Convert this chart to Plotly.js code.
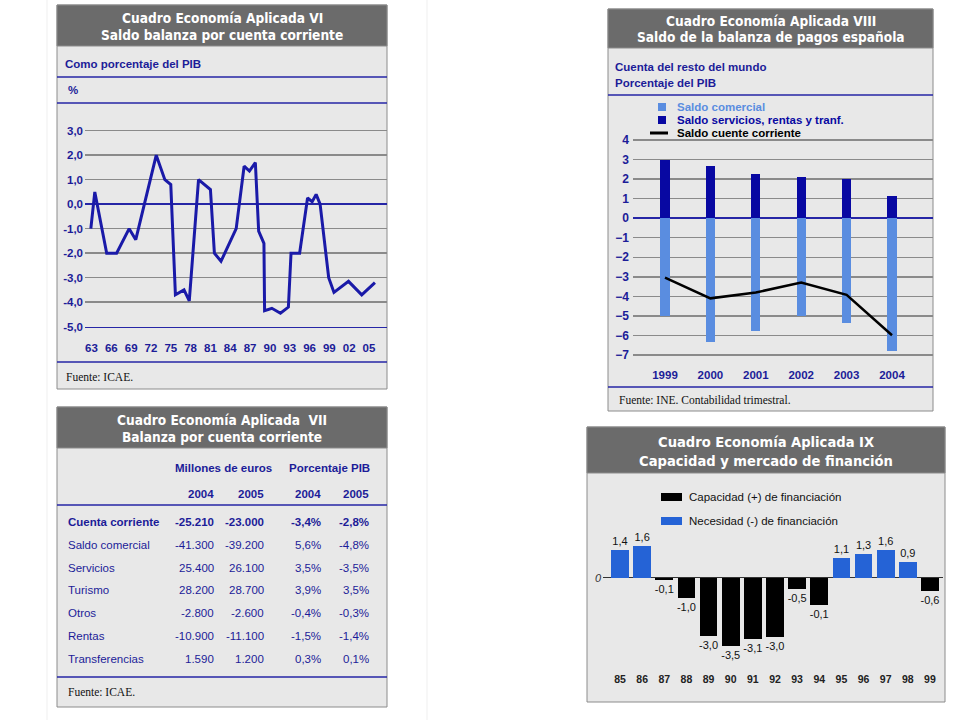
<!DOCTYPE html>
<html><head><meta charset="utf-8">
<script src="https://cdn.plot.ly/plotly-3.0.1.min.js"></script>
<style>html,body{margin:0;padding:0;background:#fff}#chart{width:960px;height:720px}</style>
</head><body><div id="chart"></div>
<script>
// ---------- Cuadro VI : saldo balanza por cuenta corriente (% PIB) ----------
const viYears = [1962.9,1963.5,1965.3,1966.8,1968.7,1969.7,1972.8,1974.1,1975.0,1975.7,1977.0,1977.8,1979.2,1981.0,1981.6,1982.6,1984.9,1986.1,1986.9,1987.8,1988.3,1989.1,1989.2,1990.3,1991.6,1992.8,1993.2,1994.5,1995.7,1996.4,1997.0,1997.6,1998.9,1999.7,2001.9,2003.9,2005.9];
const viValues = [-1.0,0.5,-2.0,-2.0,-1.0,-1.45,2.0,1.0,0.8,-3.7,-3.5,-3.95,1.0,0.6,-2.0,-2.33,-1.0,1.55,1.35,1.7,-1.1,-1.6,-4.35,-4.25,-4.45,-4.2,-2.0,-2.0,0.25,0.1,0.4,0.0,-3.0,-3.6,-3.15,-3.7,-3.2];
const viTickYears = [1963,1966,1969,1972,1975,1978,1981,1984,1987,1990,1993,1996,1999,2002,2005];
const viTickLabels = ['63','66','69','72','75','78','81','84','87','90','93','96','99','02','05'];
const viYTicks = [3,2,1,0,-1,-2,-3,-4,-5];
const viYLabels = ['3,0','2,0','1,0','0,0','-1,0','-2,0','-3,0','-4,0','-5,0'];

// ---------- Cuadro VII : tabla ----------
const viiRows = ['Cuenta corriente','Saldo comercial','Servicios','Turismo','Otros','Rentas','Transferencias'];
const viiEur2004 = ['-25.210','-41.300','25.400','28.200','-2.800','-10.900','1.590'];
const viiEur2005 = ['-23.000','-39.200','26.100','28.700','-2.600','-11.100','1.200'];
const viiPib2004 = ['-3,4%','5,6%','3,5%','3,9%','-0,4%','-1,5%','0,3%'];
const viiPib2005 = ['-2,8%','-4,8%','-3,5%','3,5%','-0,3%','-1,4%','0,1%'];
const viiGroups = ['Millones de euros','Porcentaje PIB'];
const viiYears = ['2004','2005','2004','2005'];

// ---------- Cuadro VIII ----------
const viiiYears = ['1999','2000','2001','2002','2003','2004'];
const viiiComercial = [-5.0,-6.33,-5.75,-5.0,-5.36,-6.81];
const viiiServicios = [3.0,2.68,2.24,2.1,2.0,1.11];
const viiiCorriente = [-3.04,-4.1,-3.8,-3.29,-3.92,-5.99];
const viiiNames = ['Saldo comercial','Saldo servicios, rentas y tranf.','Saldo cuente corriente'];
const viiiYTicks = [4,3,2,1,0,-1,-2,-3,-4,-5,-6,-7];

// ---------- Cuadro IX ----------
const ixYears = ['85','86','87','88','89','90','91','92','93','94','95','96','97','98','99'];
const ixValues = [1.41,1.63,-0.1,-1.02,-2.96,-3.47,-3.11,-3.03,-0.6,-1.39,0.99,1.19,1.41,0.78,-0.66];
const ixLabels = ['1,4','1,6','-0,1','-1,0','-3,0','-3,5','-3,1','-3,0','-0,5','-0,1','1,1','1,3','1,6','0,9','-0,6'];
const ixNames = ['Capacidad (+) de financiación','Necesidad (-) de financiación'];

// ---------- helpers ----------
const W = 960, H = 720;
const X = p => p / W;
const Y = p => 1 - p / H;
const BLUE = '#1c1c98';
const LINEBLUE = '#2626a6';
const GRID = '#8a8a8a';
const HDR = '#6b6b6b';
const BODY = '#e8e8e8';
const SANS = 'Liberation Sans, Arial, sans-serif';
const SERIF = 'Liberation Serif, Times New Roman, serif';
const HFONT = 'DejaVu Sans Condensed, Liberation Sans Narrow, Arial Narrow, sans-serif';

const shapes = [];
const ann = [];

function rect(x0,y0,x1,y1,fill,line){
  shapes.push({type:'rect',xref:'paper',yref:'paper',x0:X(x0),x1:X(x1),y0:Y(y1),y1:Y(y0),
    fillcolor:fill,line:line?{color:line,width:1}:{width:0},layer:'below'});
}
function hline(x0,x1,y,color,w){
  shapes.push({type:'line',xref:'paper',yref:'paper',x0:X(x0),x1:X(x1),y0:Y(y),y1:Y(y),
    line:{color:color,width:w||1.5},layer:'below'});
}
function vline(x,y0,y1,color){
  shapes.push({type:'line',xref:'paper',yref:'paper',x0:X(x),x1:X(x),y0:Y(y0),y1:Y(y1),
    line:{color:color,width:1},layer:'below'});
}
function text(t,x,y,anchor,font){
  ann.push({text:t,xref:'paper',yref:'paper',x:X(x),y:Y(y),xanchor:anchor||'left',yanchor:'middle',
    showarrow:false,font:font});
}
function panel(x0,y0,x1,y1,hb,title1,title2,hsize){
  rect(x0,y0,x1,y1,BODY,'#8c8c8c');
  rect(x0,y0,x1,hb,HDR,'#8c8c8c');
  const cx=(x0+x1)/2;
  const f={family:HFONT,size:hsize,color:'#ffffff',weight:'bold'};
  text(title1,cx,y0+(hb-y0)*0.31,'center',f);
  text(title2,cx,y0+(hb-y0)*0.73,'center',f);
}
const fBlue = {family:SANS,size:11.5,color:BLUE,weight:'bold'};
const fBlueReg = {family:SANS,size:11.5,color:BLUE};
const fSerif = {family:SERIF,size:11.5,color:'#111111'};

// faint page separators
vline(47,0,720,'#efefef');
vline(427,0,720,'#efefef');

// ---------- panels ----------
panel(57,5,387,389,46,'Cuadro Economía Aplicada VI','Saldo balanza por cuenta corriente',13.6);
panel(608,9,933,411,48,'Cuadro Economía Aplicada VIII','Saldo de la balanza de pagos española',13.6);
panel(57,407,387,707,448,'Cuadro Economía Aplicada  VII','Balanza por cuenta corriente',13.6);
panel(587,427,945,702,473,'Cuadro Economía Aplicada IX','Capacidad y mercado de financión',14.6);

// Panel VI texts
text('Como porcentaje del PIB',63,64,'left',fBlue);
hline(57,387,77,LINEBLUE);
text('%',66,90,'left',fBlue);
hline(57,387,103,LINEBLUE);
hline(57,387,362,LINEBLUE);
text('Fuente: ICAE.',64,377,'left',fSerif);

// Panel VIII texts
text('Cuenta del resto del mundo',613,67,'left',fBlue);
text('Porcentaje del PIB',613,83,'left',fBlue);
hline(608,933,95,LINEBLUE);
hline(608,933,387,LINEBLUE);
text('Fuente: INE. Contabilidad trimestral.',617,400,'left',fSerif);
// legend VIII
const viiiColors = ['#5a8de0','#0808a2','#000000'];
rect(658,103,666,111,viiiColors[0]);
rect(658,116,666,124,viiiColors[1]);
hline(650,668,133,'#000000',3);
[107,120,133].forEach((yy,i)=>text(viiiNames[i],675,yy,'left',{family:SANS,size:11.5,color:viiiColors[i],weight:'bold'}));

// Panel VII table
hline(57,387,505,LINEBLUE);
hline(57,387,677,LINEBLUE);
text(viiGroups[0],223,468,'center',fBlue);
text(viiGroups[1],329,468,'center',fBlue);
const colRight = [216,266,323,371];
viiYears.forEach((t,i)=>text(t,colRight[i],494,'right',fBlue));
viiRows.forEach((r,i)=>{
  const yy = 522.3 + i*22.7;
  const f = i===0 ? fBlue : fBlueReg;
  text(r,66,yy,'left',f);
  [viiEur2004[i],viiEur2005[i],viiPib2004[i],viiPib2005[i]].forEach((v,j)=>text(v,colRight[j],yy,'right',f));
});
text('Fuente: ICAE.',66,692,'left',fSerif);

// legend IX
const ixColors = ['#000000','#2563d6'];
rect(661,493,682,501,ixColors[0]);
rect(661,517,682,525,ixColors[1]);
text(ixNames[0],687,497,'left',{family:SANS,size:11.5,color:'#111'});
text(ixNames[1],687,521,'left',{family:SANS,size:11.5,color:'#111'});

// ---------- traces ----------
const traces = [];
traces.push({type:'scatter',mode:'lines',x:viYears,y:viValues,xaxis:'x',yaxis:'y',
  line:{color:'#1a1aa8',width:3},hoverinfo:'skip',showlegend:false,cliponaxis:false});

traces.push({type:'bar',x:viiiYears,y:viiiServicios,xaxis:'x2',yaxis:'y2',width:0.2,
  marker:{color:viiiColors[1]},name:viiiNames[1],showlegend:false});
traces.push({type:'bar',x:viiiYears,y:viiiComercial,xaxis:'x2',yaxis:'y2',width:0.2,
  marker:{color:viiiColors[0]},name:viiiNames[0],showlegend:false});
traces.push({type:'scatter',mode:'lines',x:viiiYears,y:viiiCorriente,xaxis:'x2',yaxis:'y2',
  line:{color:'#000000',width:2.5},name:viiiNames[2],showlegend:false});

traces.push({type:'bar',x:ixYears,y:ixValues,xaxis:'x3',yaxis:'y3',width:0.8,
  marker:{color:ixValues.map(v=>v>=0?ixColors[1]:ixColors[0])},
  text:ixLabels,textposition:'outside',constraintext:'none',cliponaxis:false,
  textfont:{family:SANS,size:11,color:'#111'},showlegend:false});

// ---------- axes ----------
const viPx = 6.607, vi0 = 91.5;
const viiiStep = 45.4, viii0 = 665;
const ixStep = 22.14, ix0 = 620;

const layout = {
  width:W,height:H,margin:{l:0,r:0,t:0,b:0},
  paper_bgcolor:'#ffffff',plot_bgcolor:'rgba(0,0,0,0)',
  showlegend:false,barmode:'overlay',bargap:0,
  shapes:shapes,annotations:ann,
  xaxis:{domain:[X(85),X(387)],range:[1963-(vi0-85)/viPx,1963+(387-vi0)/viPx],
    tickmode:'array',tickvals:viTickYears,ticktext:viTickLabels,showgrid:false,zeroline:false,
    showline:true,linecolor:LINEBLUE,linewidth:1.5,ticks:'',ticklabelstandoff:10,
    tickfont:{family:SANS,size:11.5,color:BLUE,weight:'bold'},anchor:'y',fixedrange:true},
  yaxis:{domain:[Y(326.7),Y(123.3)],range:[-5,3.3],tickmode:'array',tickvals:viYTicks,ticktext:viYLabels,
    showgrid:true,gridcolor:GRID,gridwidth:1.5,zeroline:true,zerolinecolor:LINEBLUE,zerolinewidth:1.5,
    ticks:'',ticklabelstandoff:1,tickfont:{family:SANS,size:11.5,color:BLUE,weight:'bold'},anchor:'x',fixedrange:true},
  xaxis2:{domain:[X(633),X(933)],type:'category',range:[-(viii0-633)/viiiStep,5+(933-(viii0+5*viiiStep))/viiiStep],
    showgrid:false,zeroline:false,showline:false,ticks:'',ticklabelstandoff:6,
    tickfont:{family:SANS,size:11.5,color:BLUE,weight:'bold'},anchor:'y2',fixedrange:true},
  yaxis2:{domain:[Y(360.9),Y(135.1)],range:[-7.3,4.25],tickmode:'array',tickvals:viiiYTicks,
    showgrid:true,gridcolor:GRID,gridwidth:1.5,zeroline:true,zerolinecolor:LINEBLUE,zerolinewidth:1.5,
    ticks:'',ticklabelstandoff:3,tickfont:{family:SANS,size:12,color:BLUE,weight:'bold'},anchor:'x2',fixedrange:true},
  xaxis3:{domain:[X(603),X(943)],type:'category',range:[-(ix0-603)/ixStep,14+(943-(ix0+14*ixStep))/ixStep],
    showgrid:false,zeroline:false,showline:false,ticks:'',ticklabelstandoff:6,
    tickfont:{family:SANS,size:10.5,color:'#222',weight:'bold'},anchor:'y3',fixedrange:true},
  yaxis3:{domain:[Y(665),Y(480)],range:[-(665-577.7)/19.6,(577.7-480)/19.6],tickmode:'array',tickvals:[0],ticktext:['0'],
    showgrid:false,zeroline:true,zerolinecolor:'#333333',zerolinewidth:1.2,ticks:'',ticklabelstandoff:1,
    tickfont:{family:SANS,size:11,color:'#333',style:'italic'},anchor:'x3',fixedrange:true}
};

Plotly.newPlot('chart',traces,layout,{staticPlot:true,displayModeBar:false});
</script></body></html>
